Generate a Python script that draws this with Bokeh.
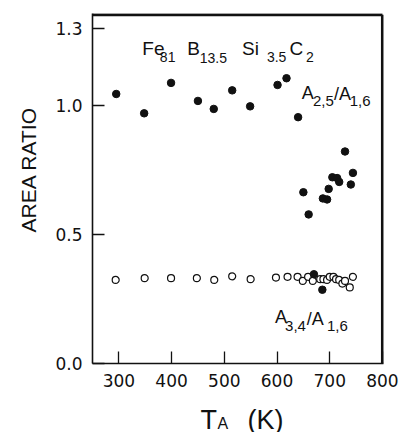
from bokeh.plotting import figure
from bokeh.models import Label, FixedTicker, NumeralTickFormatter, ColumnDataSource, Title
from bokeh.layouts import column
from bokeh.embed import file_html
from bokeh.resources import INLINE

# ---- data ----
# A2,5/A1,6 ratio (filled circles)
t_a25 = [295, 348, 399, 450, 480, 515, 549, 601, 618, 640,
         650, 660, 687, 695, 698, 705, 714, 718, 729, 740, 744]
r_a25 = [1.045, 0.970, 1.088, 1.018, 0.987, 1.059, 0.997, 1.080, 1.106, 0.955,
         0.664, 0.578, 0.640, 0.636, 0.677, 0.722, 0.719, 0.704, 0.822, 0.694, 0.739]

# A3,4/A1,6 ratio (open circles)
t_a34 = [294, 349, 399, 448, 481, 515, 550, 598, 620, 639, 649, 659,
         668, 682, 688, 695, 700, 707, 712, 718, 724, 729, 738, 744]
r_a34 = [0.324, 0.331, 0.331, 0.331, 0.324, 0.338, 0.327, 0.333, 0.336, 0.336, 0.320, 0.336,
         0.320, 0.327, 0.327, 0.324, 0.336, 0.336, 0.327, 0.324, 0.310, 0.320, 0.295, 0.336]

# A3,4/A1,6 ratio (filled circles)
t_a34_f = [670, 686]
r_a34_f = [0.346, 0.286]

x_ticks = [300, 400, 500, 600, 700, 800]
y_ticks = [0.0, 0.5, 1.0, 1.3]

FONT = "Liberation Sans"
TICKFONT = "DejaVu Sans"
INK = "#111111"
XMIN, XMAX, YMAX = 250, 800, 1.352

p = figure(width=405, height=395, output_backend="svg", toolbar_location=None,
           x_range=(XMIN, 802), y_range=(0, 1.357),
           min_border_left=92, min_border_right=22, min_border_top=13, min_border_bottom=32)
p.xgrid.visible = False
p.ygrid.visible = False
p.background_fill_color = "white"
p.border_fill_color = "white"
p.outline_line_color = None

for ax in (p.xaxis[0], p.yaxis[0]):
    ax.axis_line_color = INK
    ax.axis_line_width = 1.6
    ax.major_tick_in = 12
    ax.major_tick_out = 0
    ax.major_tick_line_color = INK
    ax.major_tick_line_width = 1.3
    ax.minor_tick_line_color = None
    ax.major_label_text_font = TICKFONT
    ax.major_label_text_font_size = "17px"
    ax.major_label_text_color = INK
    ax.major_label_standoff = 10

p.xaxis.ticker = FixedTicker(ticks=x_ticks)
p.yaxis.ticker = FixedTicker(ticks=y_ticks)
p.yaxis.formatter = NumeralTickFormatter(format="0.0")

# top and right sides of the box
p.line([XMAX, XMAX], [0, YMAX], line_color=INK, line_width=3)
p.line([XMIN, XMAX], [YMAX, YMAX], line_color=INK, line_width=3)

# y axis title
p.add_layout(Title(text="AREA RATIO", align="left", offset=131, text_font=FONT,
                   text_font_size="21px", text_font_style="normal", text_color=INK,
                   standoff=26), "left")

src25 = ColumnDataSource(dict(x=t_a25, y=r_a25))
src34 = ColumnDataSource(dict(x=t_a34, y=r_a34))
src34f = ColumnDataSource(dict(x=t_a34_f, y=r_a34_f))

p.scatter("x", "y", source=src34, size=7, fill_color="white", line_color=INK, line_width=1.2)
p.scatter("x", "y", source=src25, size=7.5, fill_color=INK, line_color=INK)
p.scatter("x", "y", source=src34f, size=7.5, fill_color=INK, line_color=INK)


def lab(fig, x, y, text, size, units="data"):
    fig.add_layout(Label(x=x, y=y, x_units=units, y_units=units, text=text, text_font=FONT,
                         text_font_size=f"{size}px", text_color=INK,
                         text_baseline="alphabetic", text_align="left"))

# title: Fe81 B13.5 Si3.5 C2
lab(p, 344.5, 1.221, "Fe", 19)
lab(p, 377.8, 1.189, "81", 14)
lab(p, 429.6, 1.221, "B", 19)
lab(p, 453.4, 1.183, "13.5", 14)
lab(p, 533.5, 1.221, "Si", 19)
lab(p, 580.8, 1.189, "3.5", 14)
lab(p, 623.5, 1.221, "C", 19)
lab(p, 655.0, 1.189, "2", 14)

# series label A2,5/A1,6
lab(p, 646.9, 1.050, "A", 18)
lab(p, 668.3, 1.019, "2,5", 15)
lab(p, 708.0, 1.046, "/A", 18)
lab(p, 738.0, 1.019, "1,6", 15)

# series label A3,4/A1,6
lab(p, 596.4, 0.179, "A", 18)
lab(p, 615.3, 0.147, "3,4", 15)
lab(p, 656.3, 0.173, "/A", 18)
lab(p, 694.7, 0.147, "1,6", 15)

# strip below holding the x axis title T_A (K)
pb = figure(width=405, height=37, output_backend="svg", toolbar_location=None,
            x_range=(0, 405), y_range=(0, 37), x_axis_type=None, y_axis_type=None,
            min_border_left=0, min_border_right=0, min_border_top=0, min_border_bottom=0)
pb.xgrid.visible = False
pb.ygrid.visible = False
pb.outline_line_color = None
pb.background_fill_color = "white"
pb.border_fill_color = "white"
lab(pb, 108, 13, "T", 27, units="screen")
lab(pb, 125, 9, "A", 16, units="screen")
lab(pb, 155, 13, "(K)", 27, units="screen")

layout = column(p, pb, spacing=0)
open("out.html", "w").write(file_html(layout, INLINE))
